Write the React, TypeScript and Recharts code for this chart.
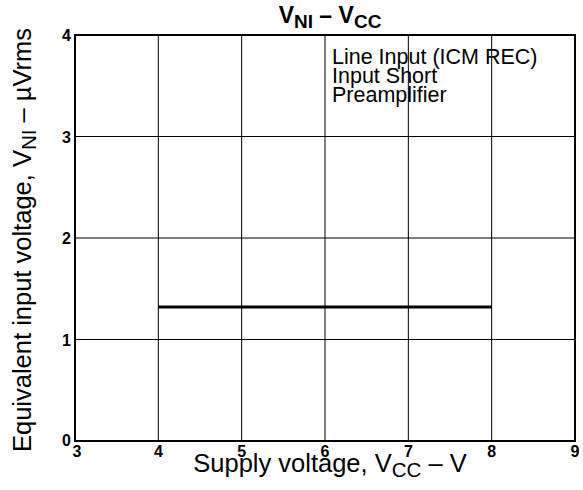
import { LineChart, Line, XAxis, YAxis, CartesianGrid, ReferenceArea } from 'recharts'

const xTicks = [3, 4, 5, 6, 7, 8, 9]
const yTicks = [0, 1, 2, 3, 4]
const supplyVoltage = [4, 8]
const noiseVoltage = [1.32, 1.32]
const legendLines = ['Line Input (ICM REC)', 'Input Short', 'Preamplifier']

const data = supplyVoltage.map((x, i) => ({ x, y: noiseVoltage[i] }))

const W = 583
const H = 490
const FONT = '"Liberation Sans", Arial, sans-serif'

function XTick({ x, y, payload }: any) {
  const dx = payload.value === 3 ? 2 : 0
  return (
    <text x={x + dx} y={y + 8} textAnchor="middle" fontFamily={FONT} fontWeight="bold" fontSize={16} fill="#000">
      {payload.value}
    </text>
  )
}

function YTick({ x, y, payload }: any) {
  const dy = payload.value === 0 ? -1 : 0
  return (
    <text x={x + 4} y={y + 6 + dy} textAnchor="end" fontFamily={FONT} fontWeight="bold" fontSize={16} fill="#000">
      {payload.value}
    </text>
  )
}

export default function App() {
  return (
    <div style={{ position: 'absolute', left: 0, top: 0, width: W, height: H, background: '#fff' }}>
      <LineChart width={W} height={H} data={data} margin={{ top: 35, right: 8, bottom: 19, left: 45 }}>
        <CartesianGrid stroke="#000" strokeWidth={1} horizontalValues={yTicks} verticalValues={xTicks} />
        <XAxis
          dataKey="x"
          type="number"
          domain={[3, 9]}
          ticks={xTicks}
          interval={0}
          height={30}
          axisLine={false}
          tickLine={false}
          tick={<XTick />}
        />
        <YAxis
          type="number"
          domain={[0, 4]}
          ticks={yTicks}
          interval={0}
          width={30}
          axisLine={false}
          tickLine={false}
          tick={<YTick />}
        />
        <ReferenceArea x1={3} x2={9} y1={0} y2={4} fill="none" stroke="#000" strokeWidth={2} />
        <Line dataKey="y" stroke="#000" strokeWidth={3} dot={false} isAnimationActive={false} />
      </LineChart>
      <svg width={W} height={H} style={{ position: 'absolute', left: 0, top: 0, pointerEvents: 'none' }}>
        <text x={330} y={23} textAnchor="middle" fontFamily={FONT} fontWeight="bold" fontSize={23} fill="#000">
          V<tspan fontSize={19} dy={5}>NI</tspan>
          <tspan dy={-5}> – V</tspan>
          <tspan fontSize={19} dy={5}>CC</tspan>
        </text>
        <text x={330} y={472} textAnchor="middle" fontFamily={FONT} fontSize={25.5} fill="#000">
          Supply voltage, V<tspan fontSize={20.5} dy={5}>CC</tspan>
          <tspan dy={-5}> – V</tspan>
        </text>
        <text
          x={0}
          y={0}
          transform="translate(31 240) rotate(-90)"
          textAnchor="middle"
          fontFamily={FONT}
          fontSize={25.5}
          fill="#000"
        >
          Equivalent input voltage, V<tspan fontSize={20.5} dy={5}>NI</tspan>
          <tspan dy={-5}> – µVrms</tspan>
        </text>
        {legendLines.map((t, i) => (
          <text key={t} x={332} y={64 + i * 19} fontFamily={FONT} fontSize={21.5} fill="#000">
            {t}
          </text>
        ))}
      </svg>
    </div>
  )
}
